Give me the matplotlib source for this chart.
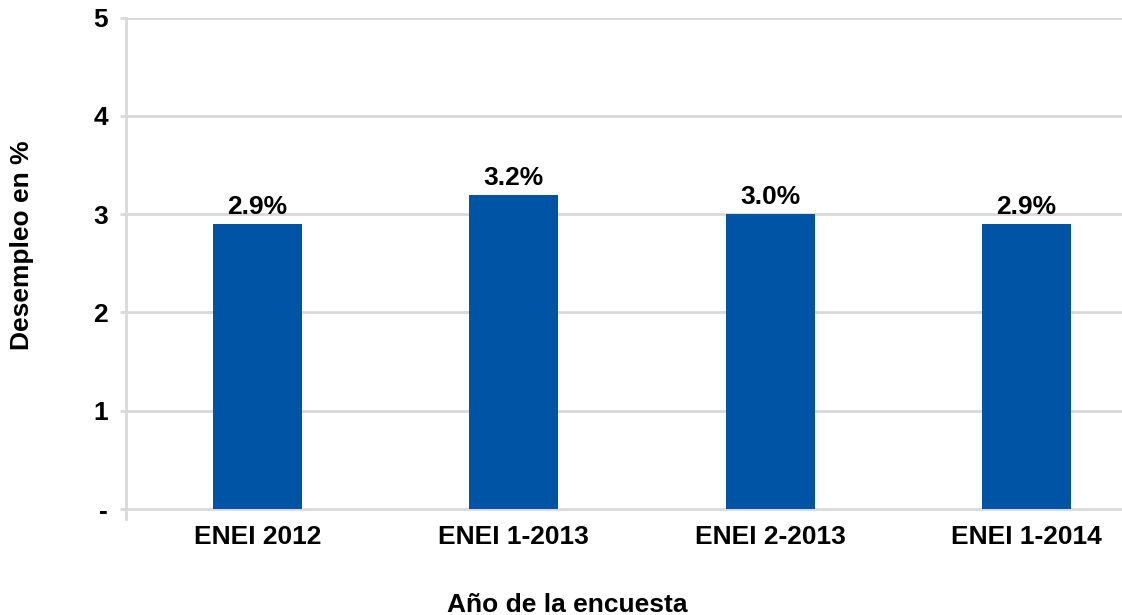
import matplotlib
matplotlib.use("Agg")
import matplotlib.pyplot as plt

categories = ["ENEI 2012", "ENEI 1-2013", "ENEI 2-2013", "ENEI 1-2014"]
values = [2.9, 3.2, 3.0, 2.9]
labels = ["2.9%", "3.2%", "3.0%", "2.9%"]
yticks = [0, 1, 2, 3, 4, 5]
ytick_labels = ["-", "1", "2", "3", "4", "5"]

plt.rcParams["font.family"] = ["Liberation Sans", "DejaVu Sans"]
plt.rcParams["font.weight"] = "bold"

W, H = 1122, 615
fig = plt.figure(figsize=(W / 100, H / 100), dpi=100)

left_px, right_px = 126, 1122
top_px, bottom_px = 17.7, 519
ax = fig.add_axes([left_px / W, 1 - bottom_px / H, (right_px - left_px) / W, (bottom_px - top_px) / H])

unit = 256.3
xl = (left_px - 257.5) / unit
xr = (right_px - 257.5) / unit
ax.set_xlim(xl, xr)
ylow = -(bottom_px - 509) / 98.3
ax.set_ylim(ylow, 5)

x = list(range(len(categories)))
ax.bar(x, values, width=0.347, color="#0054A5", zorder=3)
for xi, v, lab in zip(x, values, labels):
    ax.annotate(lab, (xi, v), xytext=(0, 10), textcoords="offset pixels",
                ha="center", va="baseline", fontsize=19, fontweight="bold")

ax.set_yticks(yticks)
ax.set_yticklabels(ytick_labels, fontsize=19, fontweight="bold")
ax.yaxis.grid(True, color="#d9d9d9", linewidth=2, zorder=0)
ax.tick_params(axis="y", length=4, width=2, color="#d9d9d9", pad=9)

ax.set_xticks(x)
ax.set_xticklabels(categories, fontsize=19, fontweight="bold")
ax.tick_params(axis="x", length=0, pad=4)

for s in ["top", "right", "bottom"]:
    ax.spines[s].set_visible(False)
ax.spines["left"].set_color("#d9d9d9")
ax.spines["left"].set_linewidth(2)

fig.text(22 / W, 1 - 245 / H, "Desempleo en %", rotation=90, ha="center", va="center",
         fontsize=19, fontweight="bold")
fig.text(567 / W, 1 - 612 / H, "Año de la encuesta", ha="center", va="baseline",
         fontsize=19, fontweight="bold")

fig.savefig("out.png", dpi=100)
